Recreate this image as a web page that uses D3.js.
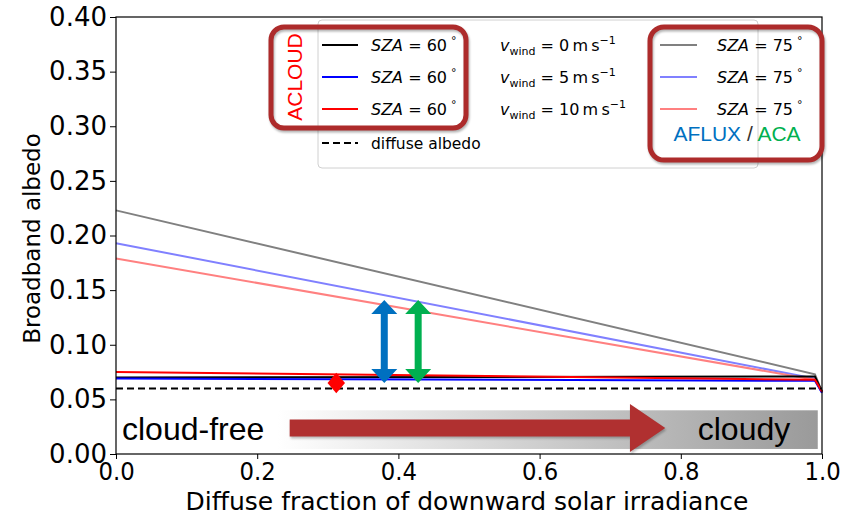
<!DOCTYPE html>
<html>
<head>
<meta charset="utf-8">
<script src="https://cdn.jsdelivr.net/npm/d3@7"></script>
<style>
  body { margin: 0; background: #fff; }
  svg { display: block; font-family: "DejaVu Sans", sans-serif; }
  .ann { font-family: "Liberation Sans", Arial, sans-serif; }
</style>
</head>
<body>
<div id="chart"></div>
<script>
'use strict';

// data
const diffFrac = [0, 0.99, 1.0];
const sza60v0 = [0.070, 0.071, 0.057];
const sza60v5 = [0.069, 0.067, 0.056];
const sza60v10 = [0.075, 0.068, 0.057];
const sza75v0 = [0.223, 0.073, 0.057];
const sza75v5 = [0.193, 0.069, 0.056];
const sza75v10 = [0.179, 0.068, 0.057];
const diffuseAlbedo = 0.060;
const acloudPoint = [0.312, 0.065];
const afluxArrow = [0.38, 0.065, 0.141];
const acaArrow = [0.428, 0.065, 0.141];
const xTicks = [0, 0.2, 0.4, 0.6, 0.8, 1.0];
const yTicks = [0, 0.05, 0.10, 0.15, 0.20, 0.25, 0.30, 0.35, 0.40];

const W = 852, H = 517;
const margin = {top: 17, left: 116, right: 30, bottom: 63};
const w = W - margin.left - margin.right;
const h = H - margin.top - margin.bottom;

const svg = d3.select("#chart").append("svg")
  .attr("width", W).attr("height", H);
const defs = svg.append("defs");
const g = svg.append("g")
  .attr("transform", `translate(${margin.left},${margin.top})`);

const x = d3.scaleLinear().domain([0, 1]).range([0, w]);
const y = d3.scaleLinear().domain([0, 0.4]).range([h, 0]);

// background gradient band (cloud-free -> cloudy)
const grad = defs.append("linearGradient").attr("id", "band");
grad.append("stop").attr("offset", "0%").attr("stop-color", "#ffffff");
grad.append("stop").attr("offset", "100%").attr("stop-color", "#9a9a9a");
g.append("rect")
  .attr("x", x(0.229)).attr("y", y(0.040))
  .attr("width", x(0.994) - x(0.229)).attr("height", y(0.0046) - y(0.040))
  .attr("fill", "url(#band)");

// series
const series = [
  {v: sza75v0, c: "#808080"},
  {v: sza75v5, c: "#8080ff"},
  {v: sza75v10, c: "#ff8080"},
  {v: sza60v0, c: "#000000"},
  {v: sza60v5, c: "#0000ff"},
  {v: sza60v10, c: "#ff0000"}
];
const line = d3.line().x((d, i) => x(diffFrac[i])).y(d => y(d));
series.forEach(s => {
  g.append("path").datum(s.v)
    .attr("d", line)
    .attr("fill", "none")
    .attr("stroke", s.c)
    .attr("stroke-width", 2);
});
g.append("line")
  .attr("x1", x(0)).attr("x2", x(1))
  .attr("y1", y(diffuseAlbedo)).attr("y2", y(diffuseAlbedo))
  .attr("stroke", "#000").attr("stroke-width", 2)
  .attr("stroke-dasharray", "7,4");

// axes
const xAxis = d3.axisBottom(x).tickValues(xTicks).tickFormat(d3.format(".1f")).tickSizeOuter(0).tickSize(5);
const yAxis = d3.axisLeft(y).tickValues(yTicks).tickFormat(d3.format(".2f")).tickSizeOuter(0).tickSize(6);
const gx = g.append("g").attr("transform", `translate(0,${h})`).call(xAxis);
const gy = g.append("g").call(yAxis);
gx.selectAll("text").attr("font-size", 24).attr("font-family", "DejaVu Sans")
  .attr("fill", "#000").attr("y", 26).attr("dy", 0)
  .attr("transform", "scale(0.95,1)");
gy.selectAll("text").attr("font-size", 26).attr("font-family", "DejaVu Sans").attr("fill", "#000");
gx.selectAll("line, path").attr("stroke", "#000");
gy.selectAll("line, path").attr("stroke", "#000");
gx.select(".domain").remove();
gy.select(".domain").remove();
g.append("rect").attr("width", w).attr("height", h)
  .attr("fill", "none").attr("stroke", "#000").attr("stroke-width", 1.2);

// axis labels
svg.append("text")
  .attr("x", margin.left + w / 2 - 2).attr("y", 510)
  .attr("text-anchor", "middle").attr("font-size", 25)
  .text("Diffuse fraction of downward solar irradiance");
svg.append("text")
  .attr("transform", `translate(40,${margin.top + h / 2 + 3}) rotate(-90)`)
  .attr("text-anchor", "middle").attr("font-size", 23)
  .text("Broadband albedo");

// ACLOUD marker
const dia = d3.symbol().type(d3.symbolDiamond).size(170);
g.append("path").attr("d", dia())
  .attr("transform", `translate(${x(acloudPoint[0])},${y(acloudPoint[1])}) scale(1.25,0.85)`)
  .attr("fill", "#ff0000");

// double arrows
function dblArrow(a, color) {
  const cx = x(a[0]), y1 = y(a[2]), y2 = y(a[1]);
  const hw = 13, hh = 14, sw = 3.5;
  const pts = [
    [cx, y1], [cx + hw, y1 + hh], [cx + sw, y1 + hh], [cx + sw, y2 - hh], [cx + hw, y2 - hh],
    [cx, y2], [cx - hw, y2 - hh], [cx - sw, y2 - hh], [cx - sw, y1 + hh], [cx - hw, y1 + hh]
  ];
  g.append("polygon").attr("points", pts.map(p => p.join(",")).join(" ")).attr("fill", color);
}
dblArrow(afluxArrow, "#0070c0");
dblArrow(acaArrow, "#00b050");

// cloud arrow
const ax0 = x(0.246), ax1 = x(0.728), ax2 = x(0.778), ay = y(0.0238);
g.append("polygon")
  .attr("points", [[ax0, ay - 8.5], [ax1, ay - 8.5], [ax1, ay - 24], [ax2, ay], [ax1, ay + 24], [ax1, ay + 8.5], [ax0, ay + 8.5]]
    .map(p => p.join(",")).join(" "))
  .attr("fill", "#b03030")
  .style("filter", "drop-shadow(1px 2px 1px rgba(0,0,0,0.25))");
g.append("text").attr("class", "ann")
  .attr("x", 6).attr("y", 440 - margin.top).attr("font-size", 32)
  .text("cloud-free");
g.append("text").attr("class", "ann")
  .attr("x", x(0.955)).attr("y", 440 - margin.top).attr("font-size", 32).attr("text-anchor", "end")
  .text("cloudy");

// legend
const leg = svg.append("g");
leg.append("rect").attr("x", 318).attr("y", 20).attr("width", 440).attr("height", 148)
  .attr("rx", 4).attr("fill", "#fff").attr("fill-opacity", 0.8)
  .attr("stroke", "#d0d0d0").attr("stroke-width", 1);
const rowY = [45, 77, 109];
const leftCols = ["#000000", "#0000ff", "#ff0000"];
const rightCols = ["#808080", "#8080ff", "#ff8080"];
const winds = ["0", "5", "10"];
function szaText(sel, xx, yy, val) {
  const t = sel.append("text").attr("x", xx).attr("y", yy).attr("font-size", 16);
  t.append("tspan").attr("font-style", "italic").text("SZA");
  t.append("tspan").text(` = ${val}`);
  t.append("tspan").attr("dx", 4).attr("dy", -7).attr("font-size", 11).text("\u00b0");
}
rowY.forEach((ry, i) => {
  leg.append("line").attr("x1", 322).attr("x2", 358).attr("y1", ry).attr("y2", ry)
    .attr("stroke", leftCols[i]).attr("stroke-width", 2);
  szaText(leg, 371, ry + 6, 60);
  const t = leg.append("text").attr("x", 500).attr("y", ry + 6).attr("font-size", 16);
  t.append("tspan").attr("font-style", "italic").text("v");
  t.append("tspan").attr("dy", 4).attr("font-size", 11).text("wind");
  t.append("tspan").attr("dy", -4).text(` = ${winds[i]}\u2009m\u2009s`);
  t.append("tspan").attr("dy", -7).attr("font-size", 11).text("\u22121");
  leg.append("line").attr("x1", 660).attr("x2", 697).attr("y1", ry).attr("y2", ry)
    .attr("stroke", rightCols[i]).attr("stroke-width", 2);
  szaText(leg, 717, ry + 6, 75);
});
leg.append("line").attr("x1", 322).attr("x2", 358).attr("y1", 143).attr("y2", 143)
  .attr("stroke", "#000").attr("stroke-width", 2).attr("stroke-dasharray", "7,4");
leg.append("text").attr("x", 371).attr("y", 149).attr("font-size", 15.5).text("diffuse albedo");

// highlight boxes
svg.append("rect").attr("x", 271).attr("y", 27).attr("width", 195).attr("height", 101)
  .attr("rx", 13).attr("fill", "none").attr("stroke", "#ad2b2b").attr("stroke-width", 5)
  .style("filter", "drop-shadow(1px 2px 1px rgba(0,0,0,0.3))");
svg.append("rect").attr("x", 650).attr("y", 27).attr("width", 172).attr("height", 133)
  .attr("rx", 14).attr("fill", "none").attr("stroke", "#ad2b2b").attr("stroke-width", 5)
  .style("filter", "drop-shadow(1px 2px 1px rgba(0,0,0,0.3))");
svg.append("text").attr("class", "ann")
  .attr("transform", "translate(302,77) rotate(-90)")
  .attr("text-anchor", "middle").attr("font-size", 21).attr("fill", "#ff0000")
  .text("ACLOUD");
const at = svg.append("text").attr("class", "ann")
  .attr("x", 737).attr("y", 141).attr("text-anchor", "middle").attr("font-size", 21);
at.append("tspan").attr("fill", "#0070c0").text("AFLUX");
at.append("tspan").attr("fill", "#333").text(" / ");
at.append("tspan").attr("fill", "#00b050").text("ACA");
</script>
</body>
</html>
